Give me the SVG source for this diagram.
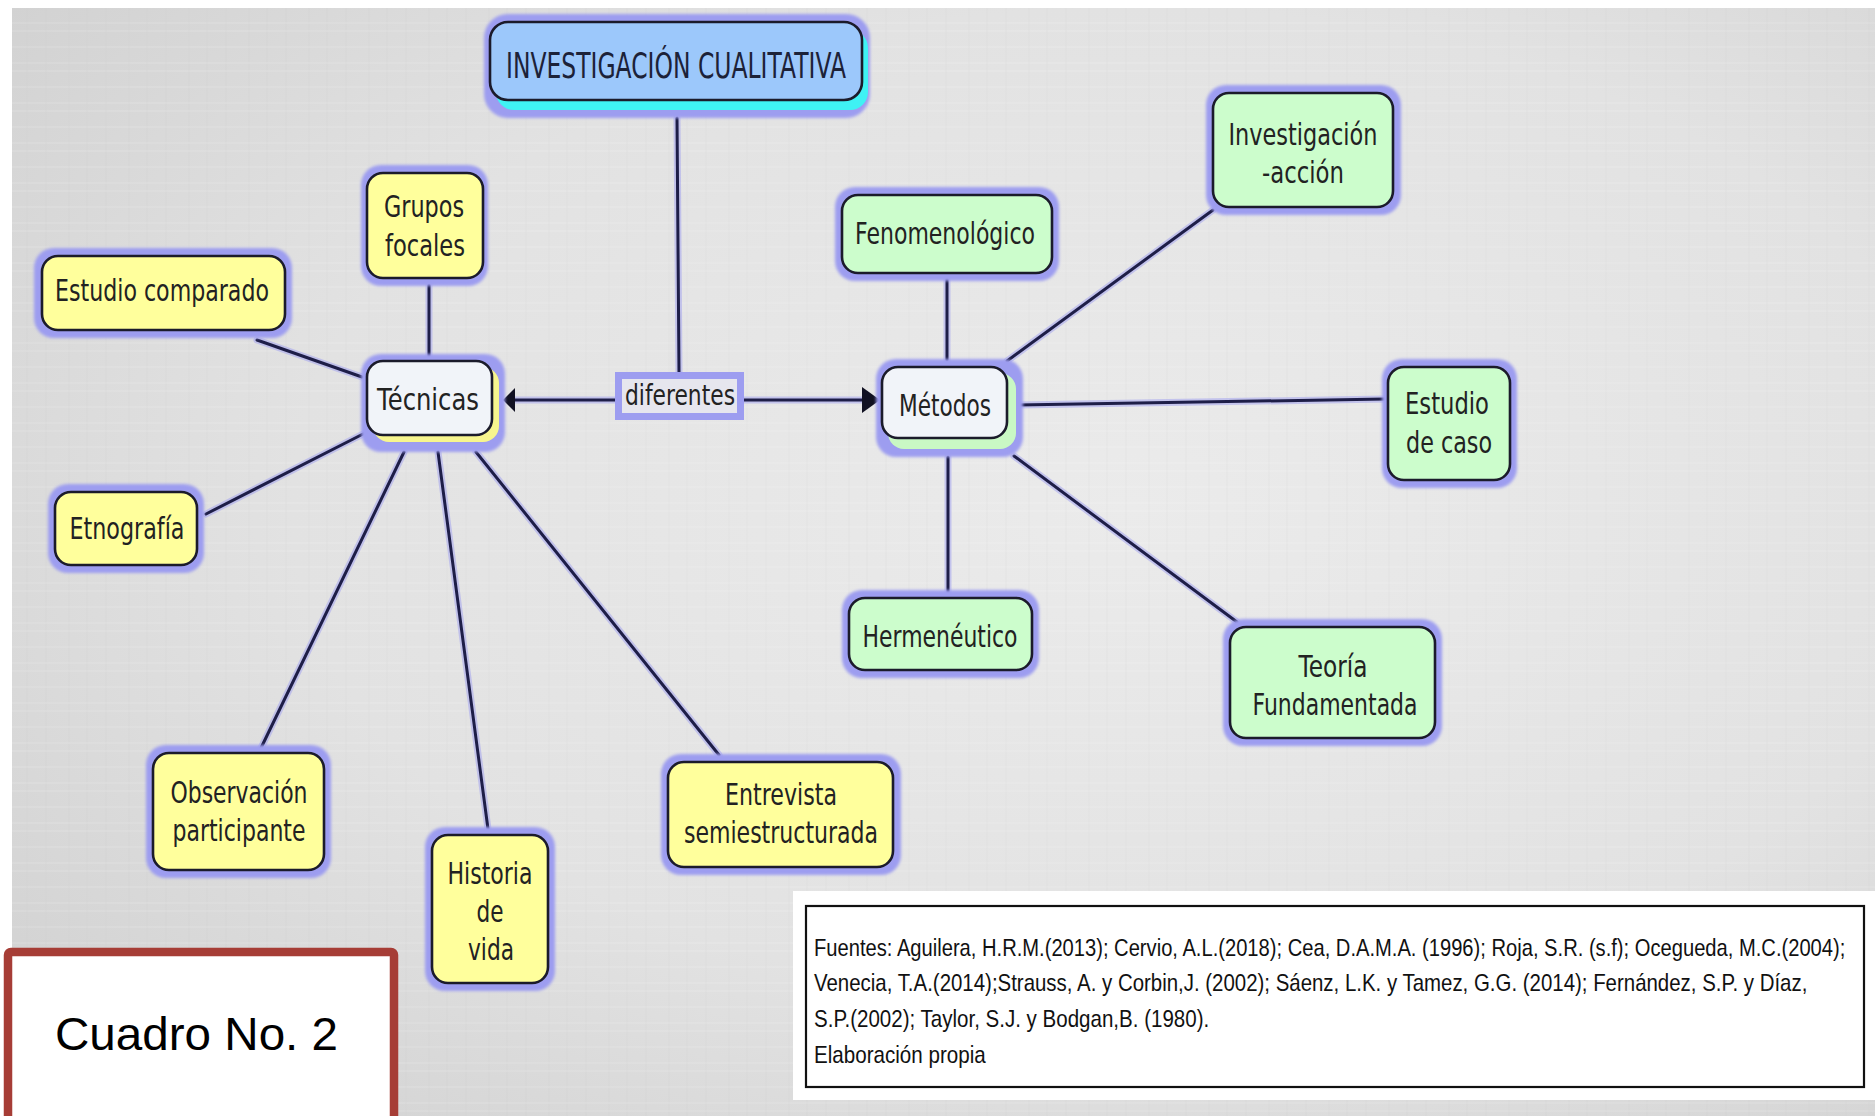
<svg xmlns="http://www.w3.org/2000/svg" width="1875" height="1116" viewBox="0 0 1875 1116">
<defs>
  <radialGradient id="bg" cx="0.6" cy="0.45" r="0.75">
    <stop offset="0" stop-color="#ebebeb"/>
    <stop offset="0.6" stop-color="#e2e2e2"/>
    <stop offset="1" stop-color="#d2d2d2"/>
  </radialGradient>
  <pattern id="linen" width="60" height="40" patternUnits="userSpaceOnUse">
    <path d="M0 7H60M0 23H60M0 31H60" stroke="#ffffff" stroke-opacity="0.18" stroke-width="1"/>
    <path d="M9 0V40M27 0V40M46 0V40" stroke="#bcbcbc" stroke-opacity="0.12" stroke-width="1"/>
  </pattern>
  <filter id="soft" x="-10%" y="-10%" width="120%" height="120%">
    <feGaussianBlur stdDeviation="1.6"/>
  </filter>
  <marker id="arrR" viewBox="0 0 18 26" refX="0" refY="13" markerWidth="18" markerHeight="26" markerUnits="userSpaceOnUse" orient="auto">
    <path d="M0 0L18 13L0 26Z" fill="#111122"/>
  </marker>
</defs>
<style>
  .halo { fill: #9d9df0; filter: url(#soft); }
  .box { stroke: #1b1b2b; stroke-width: 2.6; }
  .yel { fill: #ffff9c; }
  .grn { fill: #ccfdcc; }
  .pale { fill: #f1f4f9; }
  .blu { fill: #9cc8fb; }
  .t { font-family: "DejaVu Sans", Verdana, sans-serif; font-size: 30px; fill: #222222; text-anchor: middle; }
  .title { font-family: "DejaVu Sans", Verdana, sans-serif; font-size: 36px; fill: #1c2238; text-anchor: middle; }
  .glow { stroke: #a4a4ee; stroke-width: 7; stroke-linecap: round; fill: none; opacity: 0.55; }
  .ln { stroke: #1e1e48; stroke-width: 3; stroke-linecap: round; fill: none; }
  .src { font-family: "Liberation Sans", Arial, sans-serif; font-size: 24px; fill: #111111; }
</style>

<!-- background -->
<rect x="0" y="0" width="1875" height="1116" fill="#ffffff"/>
<rect x="12" y="8" width="1863" height="1108" fill="url(#bg)"/>
<rect x="12" y="8" width="1863" height="1108" fill="url(#linen)"/>

<!-- connectors -->
<g id="connectors">
  <g>
    <path class="glow" d="M677 118L679 372"/>
    <path class="glow" d="M615 400L512 400"/>
    <path class="glow" d="M744 400L862 400"/>
    <path class="glow" d="M429 285L429 356"/>
    <path class="glow" d="M257 340L362 377"/>
    <path class="glow" d="M206 514L365 433"/>
    <path class="glow" d="M404 452L261 748"/>
    <path class="glow" d="M438 452L488 829"/>
    <path class="glow" d="M476 452L719 755"/>
    <path class="glow" d="M947 279L947 360"/>
    <path class="glow" d="M1007 361L1213 210"/>
    <path class="glow" d="M1018 405L1385 399"/>
    <path class="glow" d="M948 457L948 593"/>
    <path class="glow" d="M1014 456L1237 622"/>
  </g>
  <path id="e-titulo-diferentes" class="ln" d="M677 118L679 372"/>
  <path id="e-diferentes-tecnicas" class="ln" d="M615 400L512 400"/>
  <polygon points="503,400 515,388 515,412" fill="#111122"/>
  <path id="e-diferentes-metodos" class="ln" d="M744 400L862 400" marker-end="url(#arrR)"/>
  <path id="e-tecnicas-grupos" class="ln" d="M429 285L429 356"/>
  <path id="e-tecnicas-estudio" class="ln" d="M257 340L362 377"/>
  <path id="e-tecnicas-etnografia" class="ln" d="M206 514L365 433"/>
  <path id="e-tecnicas-observacion" class="ln" d="M404 452L261 748"/>
  <path id="e-tecnicas-historia" class="ln" d="M438 452L488 829"/>
  <path id="e-tecnicas-entrevista" class="ln" d="M476 452L719 755"/>
  <path id="e-metodos-fenomenologico" class="ln" d="M947 279L947 360"/>
  <path id="e-metodos-investigacion" class="ln" d="M1007 361L1213 210"/>
  <path id="e-metodos-estudio" class="ln" d="M1018 405L1385 399"/>
  <path id="e-metodos-hermeneutico" class="ln" d="M948 457L948 593"/>
  <path id="e-metodos-teoria" class="ln" d="M1014 456L1237 622"/>
</g>

<!-- nodes -->
<g id="n-investigacion-cualitativa">
  <rect class="halo" x="484" y="14" width="386" height="104" rx="24"/>
  <rect x="496" y="30" width="372" height="80" rx="18" fill="#3ff2f4"/>
  <rect class="box blu" x="490" y="22" width="372" height="78" rx="18"/>
  <text class="title" x="676" y="78" textLength="340" lengthAdjust="spacingAndGlyphs">INVESTIGACIÓN CUALITATIVA</text>
</g>

<g id="n-diferentes">
  <rect x="615" y="372" width="129" height="48" fill="#9d9df0"/>
  <rect x="622" y="379" width="115" height="34" fill="#e6e6ee"/>
  <text class="t" x="680" y="405" style="font-size:28px" textLength="110" lengthAdjust="spacingAndGlyphs">diferentes</text>
</g>

<g id="n-tecnicas">
  <rect class="halo" x="361" y="354" width="144" height="98" rx="20"/>
  <rect x="373" y="367" width="126" height="75" rx="16" fill="#f7f58e"/>
  <rect class="box pale" x="367" y="361" width="125" height="74" rx="16"/>
  <text class="t" x="428" y="410" textLength="102" lengthAdjust="spacingAndGlyphs">Técnicas</text>
</g>

<g id="n-grupos-focales">
  <rect class="halo" x="361" y="165" width="127" height="121" rx="20"/>
  <rect class="box yel" x="367" y="173" width="116" height="105" rx="16"/>
  <text class="t" x="424" y="217" textLength="80" lengthAdjust="spacingAndGlyphs">Grupos</text>
  <text class="t" x="425" y="256" textLength="80" lengthAdjust="spacingAndGlyphs">focales</text>
</g>

<g id="n-estudio-comparado">
  <rect class="halo" x="34" y="248" width="258" height="90" rx="20"/>
  <rect class="box yel" x="42" y="256" width="243" height="74" rx="16"/>
  <text class="t" x="162" y="301" textLength="214" lengthAdjust="spacingAndGlyphs">Estudio comparado</text>
</g>

<g id="n-etnografia">
  <rect class="halo" x="48" y="484" width="156" height="89" rx="20"/>
  <rect class="box yel" x="55" y="492" width="142" height="73" rx="16"/>
  <text class="t" x="127" y="539" textLength="115" lengthAdjust="spacingAndGlyphs">Etnografía</text>
</g>

<g id="n-observacion-participante">
  <rect class="halo" x="146" y="745" width="185" height="133" rx="20"/>
  <rect class="box yel" x="153" y="753" width="171" height="117" rx="16"/>
  <text class="t" x="239" y="803" textLength="137" lengthAdjust="spacingAndGlyphs">Observación</text>
  <text class="t" x="239" y="841" textLength="133" lengthAdjust="spacingAndGlyphs">participante</text>
</g>

<g id="n-historia-de-vida">
  <rect class="halo" x="425" y="827" width="130" height="164" rx="20"/>
  <rect class="box yel" x="432" y="835" width="116" height="148" rx="16"/>
  <text class="t" x="490" y="884" textLength="85" lengthAdjust="spacingAndGlyphs">Historia</text>
  <text class="t" x="490" y="922" textLength="27" lengthAdjust="spacingAndGlyphs">de</text>
  <text class="t" x="491" y="960" textLength="46" lengthAdjust="spacingAndGlyphs">vida</text>
</g>

<g id="n-entrevista-semiestructurada">
  <rect class="halo" x="661" y="754" width="240" height="121" rx="20"/>
  <rect class="box yel" x="668" y="762" width="225" height="105" rx="16"/>
  <text class="t" x="781" y="805" textLength="112" lengthAdjust="spacingAndGlyphs">Entrevista</text>
  <text class="t" x="781" y="843" textLength="194" lengthAdjust="spacingAndGlyphs">semiestructurada</text>
</g>

<g id="n-metodos">
  <rect class="halo" x="876" y="359" width="147" height="98" rx="20"/>
  <rect x="888" y="373" width="128" height="76" rx="16" fill="#c9f8c4"/>
  <rect class="box pale" x="882" y="367" width="125" height="71" rx="16"/>
  <text class="t" x="945" y="416" textLength="92" lengthAdjust="spacingAndGlyphs">Métodos</text>
</g>

<g id="n-fenomenologico">
  <rect class="halo" x="835" y="187" width="224" height="94" rx="20"/>
  <rect class="box grn" x="842" y="195" width="210" height="78" rx="16"/>
  <text class="t" x="945" y="244" textLength="180" lengthAdjust="spacingAndGlyphs">Fenomenológico</text>
</g>

<g id="n-investigacion-accion">
  <rect class="halo" x="1206" y="85" width="195" height="130" rx="20"/>
  <rect class="box grn" x="1213" y="93" width="180" height="114" rx="16"/>
  <text class="t" x="1303" y="145" textLength="149" lengthAdjust="spacingAndGlyphs">Investigación</text>
  <text class="t" x="1303" y="183" textLength="82" lengthAdjust="spacingAndGlyphs">-acción</text>
</g>

<g id="n-estudio-de-caso">
  <rect class="halo" x="1382" y="359" width="135" height="129" rx="20"/>
  <rect class="box grn" x="1388" y="367" width="122" height="113" rx="16"/>
  <text class="t" x="1447" y="414" textLength="84" lengthAdjust="spacingAndGlyphs">Estudio</text>
  <text class="t" x="1449" y="453" textLength="86" lengthAdjust="spacingAndGlyphs">de caso</text>
</g>

<g id="n-hermeneutico">
  <rect class="halo" x="842" y="590" width="197" height="88" rx="20"/>
  <rect class="box grn" x="849" y="598" width="183" height="72" rx="16"/>
  <text class="t" x="940" y="647" textLength="155" lengthAdjust="spacingAndGlyphs">Hermenéutico</text>
</g>

<g id="n-teoria-fundamentada">
  <rect class="halo" x="1223" y="619" width="219" height="127" rx="20"/>
  <rect class="box grn" x="1230" y="627" width="205" height="111" rx="16"/>
  <text class="t" x="1333" y="677" textLength="69" lengthAdjust="spacingAndGlyphs">Teoría</text>
  <text class="t" x="1335" y="715" textLength="165" lengthAdjust="spacingAndGlyphs">Fundamentada</text>
</g>

<!-- sources panel -->
<g id="fuentes">
  <rect x="793" y="891" width="1082" height="209" fill="#ffffff"/>
  <rect x="806" y="906" width="1058" height="181" fill="#ffffff" stroke="#111111" stroke-width="2.2"/>
  <text class="src" transform="translate(814 956) scale(0.76 1)" x="0" y="0" textLength="1357" lengthAdjust="spacingAndGlyphs">Fuentes: Aguilera, H.R.M.(2013); Cervio, A.L.(2018); Cea, D.A.M.A. (1996); Roja, S.R. (s.f); Ocegueda, M.C.(2004);</text>
  <text class="src" transform="translate(814 991) scale(0.76 1)" x="0" y="0" textLength="1307" lengthAdjust="spacingAndGlyphs">Venecia, T.A.(2014);Strauss, A. y Corbin,J. (2002); Sáenz, L.K. y Tamez, G.G. (2014); Fernández, S.P. y Díaz,</text>
  <text class="src" transform="translate(814 1027) scale(0.76 1)" x="0" y="0" textLength="520" lengthAdjust="spacingAndGlyphs">S.P.(2002); Taylor, S.J. y Bodgan,B. (1980).</text>
  <text class="src" transform="translate(814 1063) scale(0.76 1)" x="0" y="0" textLength="226" lengthAdjust="spacingAndGlyphs">Elaboración propia</text>
</g>

<!-- caption box -->
<g id="cuadro">
  <rect x="8" y="952" width="386" height="200" rx="3" fill="#ffffff" stroke="#a63d36" stroke-width="8.5"/>
  <text x="55" y="1050" font-family="Liberation Sans, Arial, sans-serif" font-size="47" fill="#000000" textLength="283" lengthAdjust="spacingAndGlyphs">Cuadro No. 2</text>
</g>
</svg>
